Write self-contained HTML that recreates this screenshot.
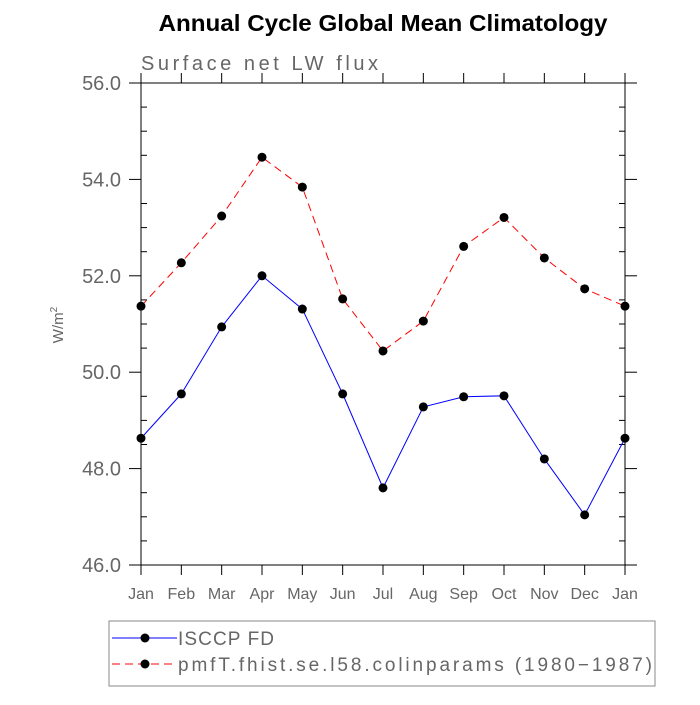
<!DOCTYPE html>
<html><head><meta charset="utf-8"><style>
body{margin:0;background:#fff;}
svg text{font-family:"Liberation Sans","DejaVu Sans",sans-serif;}
</style></head><body>
<svg id="c" width="700" height="700" xmlns="http://www.w3.org/2000/svg">
<text x="383" y="31" text-anchor="middle" font-size="23" font-weight="bold" fill="#000" textLength="449" lengthAdjust="spacingAndGlyphs">Annual Cycle Global Mean Climatology</text>
<text x="141" y="70" font-size="20" fill="#666" textLength="237">Surface net LW flux</text>
<text transform="translate(63,325) rotate(-90)" text-anchor="middle" font-size="15" fill="#666">W/m<tspan font-size="10" dy="-6">2</tspan></text>
<g id="axes"></g>
<g id="series"></g>
<rect x="109" y="621" width="546" height="65" fill="none" stroke="#888"/>
<g>
<line x1="112" y1="638" x2="177" y2="638" stroke="#00f"/><circle cx="145" cy="638" r="4.5" fill="#000"/>
<text x="178" y="645" font-size="19" fill="#666" textLength="96">ISCCP FD</text></g>
<g>
<line x1="112" y1="664" x2="177" y2="664" stroke="#f00" stroke-dasharray="8,5"/><circle cx="145" cy="664" r="4.5" fill="#000"/>
<text x="178" y="671" font-size="19" fill="#666" textLength="474">pmfT.fhist.se.l58.colinparams (1980−1987)</text></g>
</svg>
<script>
const months=["Jan","Feb","Mar","Apr","May","Jun","Jul","Aug","Sep","Oct","Nov","Dec","Jan"];
const isccp=[48.63,49.55,50.94,52.0,51.31,49.55,47.6,49.28,49.49,49.51,48.2,47.04,48.63];
const model=[51.37,52.27,53.24,54.46,53.84,51.52,50.44,51.06,52.61,53.21,52.37,51.73,51.37];
const yTicks=[46,48,50,52,54,56];
const yLabels=["46.0","48.0","50.0","52.0","54.0","56.0"];
const L=141,R=625,T=83,B=565,ymin=46,ymax=56;
const xs=i=>L+(R-L)*i/(months.length-1);
const ys=v=>B-(B-T)*(v-ymin)/(ymax-ymin);
const NS="http://www.w3.org/2000/svg";
function mk(p,tag,a){const e=document.createElementNS(NS,tag);for(const k in a)e.setAttribute(k,a[k]);p.appendChild(e);return e;}
const ax=document.getElementById('axes');
const frame=mk(ax,'rect',{x:L,y:T,width:R-L,height:B-T,fill:'none',stroke:'#000','stroke-width':1});


for(let i=0;i<months.length;i++){const x=xs(i);
mk(ax,'line',{x1:x,y1:B,x2:x,y2:B+10,stroke:'#000'});
mk(ax,'line',{x1:x,y1:T,x2:x,y2:T-10,stroke:'#000'});
const t=mk(ax,'text',{x:x,y:B+34,'text-anchor':'middle','font-size':16,fill:'#666'});t.textContent=months[i];

}
for(let v=ymin;v<=ymax+1e-9;v+=0.5){const y=ys(v);const major=Math.abs(v-Math.round(v/2)*2)<1e-6;
if(major){mk(ax,'line',{x1:L-12,y1:y,x2:L,y2:y,stroke:'#000'});mk(ax,'line',{x1:R,y1:y,x2:R+12,y2:y,stroke:'#000'});}
else{mk(ax,'line',{x1:L,y1:y,x2:L+6,y2:y,stroke:'#000'});mk(ax,'line',{x1:R-6,y1:y,x2:R,y2:y,stroke:'#000'});}}
yTicks.forEach((v,i)=>{const t=mk(ax,'text',{x:L-20,y:ys(v)+7,'text-anchor':'end','font-size':20,fill:'#666'});t.textContent=yLabels[i];

});
const sg=document.getElementById('series');
function series(d,color,dash,name){const g=mk(sg,'g',{});


const a={points:d.map((v,i)=>xs(i)+','+ys(v)).join(' '),fill:'none',stroke:color,'stroke-width':1};if(dash)a['stroke-dasharray']=dash;
mk(g,'polyline',a);
d.forEach((v,i)=>{const c=mk(g,'circle',{cx:xs(i),cy:ys(v),r:4.5,fill:'#000'});

});}
series(isccp,'#00f',null,'isccp-series');
series(model,'#f00','8,5','model-series');
</script>
</body></html>
